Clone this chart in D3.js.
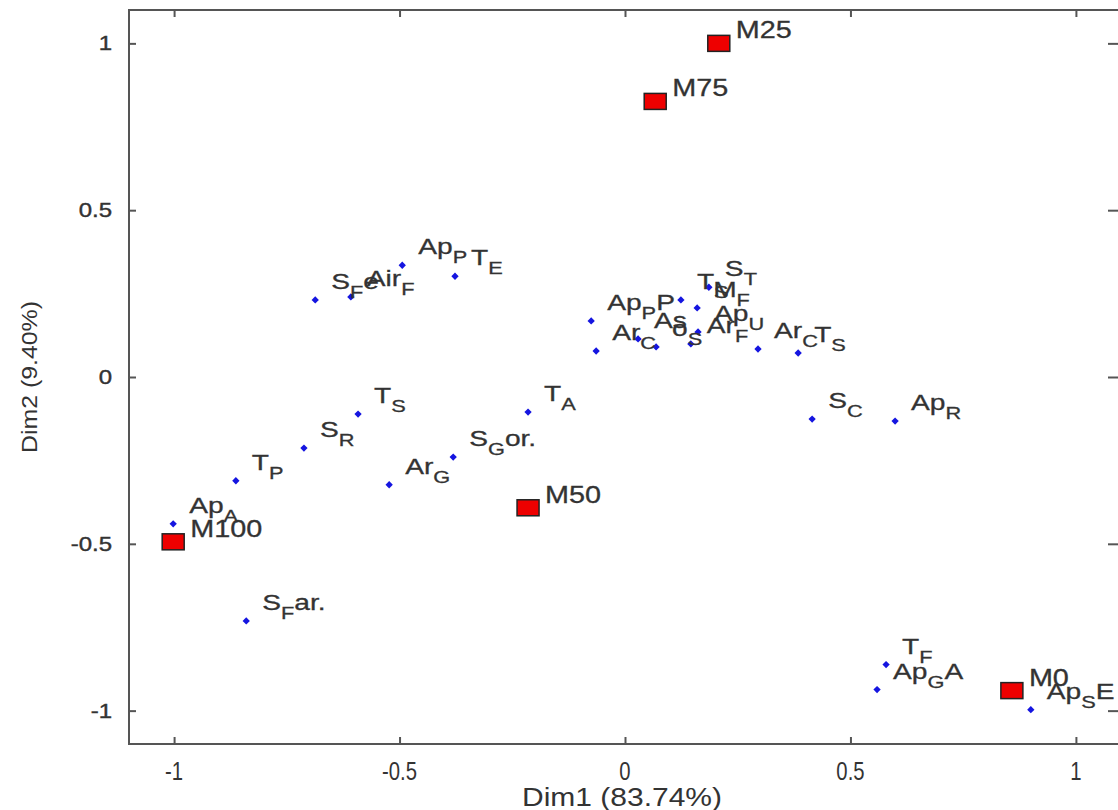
<!DOCTYPE html>
<html>
<head>
<meta charset="utf-8">
<script src="https://cdn.jsdelivr.net/npm/d3@7"></script>
<style>
  html, body { margin: 0; padding: 0; background: #fff; }
  svg { display: block; }
  text { font-family: "Liberation Sans", Arial, sans-serif; }
</style>
</head>
<body>
<svg id="chart" width="1118" height="810"></svg>
<script>
// ---- Data ----
// Attribute variables (blue diamonds)
const attrX = [-1.002, -0.863, -0.712, -0.592, -0.840, -0.523, -0.381, -0.215, 0.415, 0.599,
               0.579, 0.559, 0.900, -0.687, -0.608, -0.494, -0.377, -0.075, -0.064, 0.029,
               0.069, 0.146, 0.162, 0.160, 0.124, 0.186, 0.295, 0.384];
const attrY = [-0.440, -0.311, -0.213, -0.111, -0.731, -0.323, -0.240, -0.105, -0.126, -0.132,
               -0.862, -0.937, -0.997, 0.231, 0.240, 0.335, 0.302, 0.168, 0.078, 0.114,
               0.090, 0.099, 0.135, 0.207, 0.231, 0.269, 0.084, 0.072];
// label = main text + subscript + trailing text
const attrMain = ["Ap", "T", "S", "T", "S", "Ar", "S", "T", "S", "Ap",
                  "T", "Ap", "Ap", "S", "Air", "Ap", "T", "Ap", "Ar", "As",
                  "o", "Ar", "Ap", "M", "T", "S", "Ar", "T"];
const attrSub  = ["A", "P", "R", "S", "F", "G", "G", "A", "C", "R",
                  "F", "G", "S", "F", "F", "P", "E", "P", "C", "",
                  "S", "F", "U", "F", "S", "T", "C", "S"];
const attrTail = ["", "", "", "", "ar.", "", "or.", "", "", "",
                  "", "A", "E", "e", "", "", "", "P", "", "",
                  "", "", "", "", "", "", "", ""];

// Samples (red squares)
const sampleNames = ["M25", "M75", "M50", "M100", "M0"];
const sampleX = [0.208, 0.067, -0.215, -1.002, 0.858];
const sampleY = [1.000, 0.826, -0.392, -0.494, -0.940];

const xTicks = [-1, -0.5, 0, 0.5, 1];
const yTicks = [-1, -0.5, 0, 0.5, 1];
const xTitle = "Dim1 (83.74%)";
const yTitle = "Dim2 (9.40%)";

// ---- Layout ----
const svg = d3.select("#chart");
const xs = d3.scaleLinear().domain([-1.1, 1.1]).range([129, 1121]);
const ys = d3.scaleLinear().domain([-1.1, 1.1]).range([744, 10]);
const textCol = "#333";
const frameCol = "#555";

// frame
svg.append("rect")
  .attr("x", xs(-1.1)).attr("y", ys(1.1))
  .attr("width", xs(1.1) - xs(-1.1)).attr("height", ys(-1.1) - ys(1.1))
  .attr("fill", "none").attr("stroke", frameCol).attr("stroke-width", 2);

// axes with inward ticks
const fmt = d => String(d);
const axBottom = svg.append("g").attr("transform", `translate(0,${ys(-1.1)})`)
  .call(d3.axisTop(xs).tickValues(xTicks).tickSize(7).tickFormat(""));
const axTop = svg.append("g").attr("transform", `translate(0,${ys(1.1)})`)
  .call(d3.axisBottom(xs).tickValues(xTicks).tickSize(7).tickFormat(""));
const axLeft = svg.append("g").attr("transform", `translate(${xs(-1.1)},0)`)
  .call(d3.axisRight(ys).tickValues(yTicks).tickSize(7).tickFormat(""));
const axRight = svg.append("g").attr("transform", `translate(${xs(1.1)},0)`)
  .call(d3.axisLeft(ys).tickValues(yTicks).tickSize(13).tickFormat(""));
[axBottom, axTop, axLeft, axRight].forEach(g => {
  g.select(".domain").remove();
  g.selectAll(".tick line").attr("stroke", frameCol).attr("stroke-width", 2);
});

// tick labels
svg.append("g").selectAll("text").data(xTicks).join("text")
  .attr("transform", d => `translate(${xs(d)},780) scale(0.78,1)`)
  .attr("text-anchor", "middle")
  .attr("font-size", 26).attr("fill", textCol)
  .text(d => fmt(d));
svg.append("g").selectAll("text").data(yTicks).join("text")
  .attr("transform", d => `translate(112,${ys(d) + 7}) scale(1.2,1)`)
  .attr("text-anchor", "end")
  .attr("font-size", 20).attr("fill", textCol)
  .attr("stroke", textCol).attr("stroke-width", 0.4)
  .text(d => fmt(d));

// axis titles
svg.append("text").attr("transform", "translate(622,806) scale(1.2,1)")
  .attr("text-anchor", "middle").attr("font-size", 25).attr("fill", textCol)
  .text(xTitle);
svg.append("text")
  .attr("transform", `translate(37,${ys(0)}) rotate(-90)`)
  .attr("text-anchor", "middle").attr("font-size", 22).attr("fill", textCol)
  .attr("textLength", 152).attr("lengthAdjust", "spacingAndGlyphs")
  .text(yTitle);

// ---- Marks ----
const attrs = attrX.map((v, i) => ({x: v, y: attrY[i], main: attrMain[i], sub: attrSub[i], tail: attrTail[i]}));
const samples = sampleX.map((v, i) => ({x: v, y: sampleY[i], name: sampleNames[i]}));

const plot = svg.append("g");
plot.selectAll("path.diamond").data(attrs).join("path")
  .attr("class", "diamond")
  .attr("d", d3.symbol().type(d3.symbolDiamond2).size(34))
  .attr("transform", d => `translate(${xs(d.x)},${ys(d.y)})`)
  .attr("fill", "#1515e0");

plot.selectAll("rect.sample").data(samples).join("rect")
  .attr("class", "sample")
  .attr("x", d => xs(d.x) - 11).attr("y", d => ys(d.y) - 8)
  .attr("width", 22).attr("height", 16)
  .attr("fill", "#ee0000").attr("stroke", "#222").attr("stroke-width", 1.5);

// attribute labels
const lab = plot.selectAll("text.attr").data(attrs).join("text")
  .attr("class", "attr")
  .attr("transform", d => `translate(${xs(d.x) + 16},${ys(d.y) - 11}) scale(1.28,1)`)
  .attr("font-size", 22).attr("fill", textCol)
  .attr("stroke", textCol).attr("stroke-width", 0.3);
lab.append("tspan").text(d => d.main);
lab.append("tspan").attr("font-size", 17).attr("dy", 9).text(d => d.sub);
lab.append("tspan").attr("dy", -9).text(d => d.tail);

// sample labels
plot.selectAll("text.sample").data(samples).join("text")
  .attr("class", "sample")
  .attr("transform", d => `translate(${xs(d.x) + 17},${ys(d.y) - 5}) scale(1.2,1)`)
  .attr("font-size", 24).attr("fill", textCol)
  .attr("stroke", textCol).attr("stroke-width", 0.3)
  .text(d => d.name);
</script>
</body>
</html>
